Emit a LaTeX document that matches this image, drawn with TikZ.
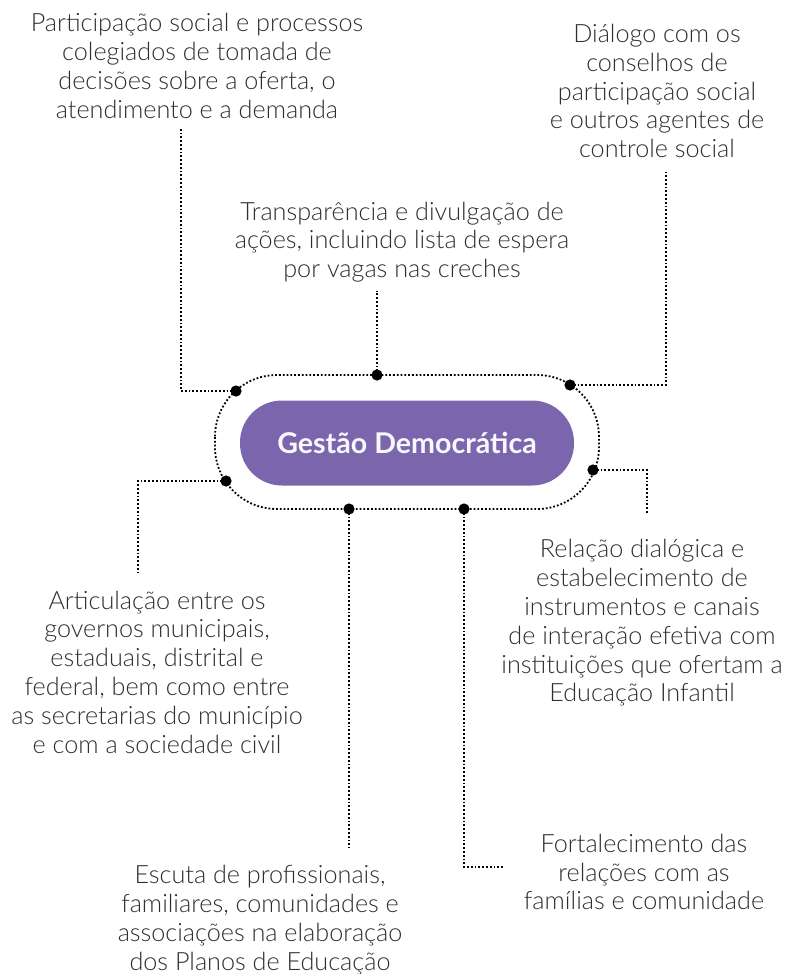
\documentclass[tikz,border=0pt]{standalone}
\usepackage{fontspec}
\setmainfont{Lato Light}[BoldFont={Lato Bold}]
\usepackage{xcolor}
\usetikzlibrary{positioning}
\definecolor{gdpurple}{HTML}{7B66AD}
\definecolor{gdtext}{HTML}{2E2E2E}

\begin{document}
\begin{tikzpicture}[x=0.5pt, y=-0.5pt,
  label/.style={align=center, text=gdtext, inner sep=0pt, font=\fontsize{12.6}{14.4}\selectfont},
  link/.style={line width=0.9pt, dash pattern=on 0.9pt off 1pt},
  dot/.style={circle, fill=black, inner sep=0pt, minimum size=5.6pt}]
  \useasboundingbox (0,0) rectangle (790,974);
  % outer ring and centre
  \draw[link, rounded corners=31pt] (215,375) rectangle (599,509);
  \node[fill=gdpurple, rounded corners=21pt, minimum width=167pt, minimum height=42.5pt,
        text=white!95!gdpurple, font=\fontsize{14.3}{16}\selectfont\bfseries] (gd) at (407,443) {Gestão Democrática};
  % dots on the ring
  \node[dot] (d1) at (236,391) {};
  \node[dot] (d2) at (377,375) {};
  \node[dot] (d3) at (570,385) {};
  \node[dot] (d4) at (593,470) {};
  \node[dot] (d5) at (464,509) {};
  \node[dot] (d6) at (349,509) {};
  \node[dot] (d7) at (226,481) {};
  % texts
  \node[label] (t1) at (197,66) {Participação social e processos\\colegiados de tomada de\\decisões sobre a oferta, o\\atendimento e a demanda};
  \node[label] (t2) at (657,91) {Diálogo com os\\conselhos de\\participação social\\e outros agentes de\\controle social};
  \node[label] (t3) at (402,242) {Transparência e divulgação de\\ações, incluindo lista de espera\\por vagas nas creches};
  \node[label] (t4) at (157,672) {Articulação entre os\\governos municipais,\\estaduais, distrital e\\federal, bem como entre\\as secretarias do município\\e com a sociedade civil};
  \node[label] (t5) at (642,623) {Relação dialógica e\\estabelecimento de\\instrumentos e canais\\de interação efetiva com\\instituições que ofertam a\\Educação Infantil};
  \node[label] (t6) at (644,872) {Fortalecimento das\\relações com as\\famílias e comunidade};
  \node[label] (t7) at (260,920) {Escuta de profissionais,\\familiares, comunidades e\\associações na elaboração\\dos Planos de Educação};
  % free ends of the connectors
  \coordinate (e1) at (181,127);
  \coordinate (e2) at (377,291);
  \coordinate (e3) at (666,172);
  \coordinate (e4) at (647,513);
  \coordinate (e5) at (504,867);
  \coordinate (e6) at (349,848);
  \coordinate (e7) at (138,575);
  \draw[link] (d1.center) -| (e1);
  \draw[link] (d2.center) -- (e2);
  \draw[link] (d3.center) -| (e3);
  \draw[link] (d4.center) -| (e4);
  \draw[link] (d5.center) |- (e5);
  \draw[link] (d6.center) -- (e6);
  \draw[link] (d7.center) -| (e7);
\end{tikzpicture}
\end{document}
